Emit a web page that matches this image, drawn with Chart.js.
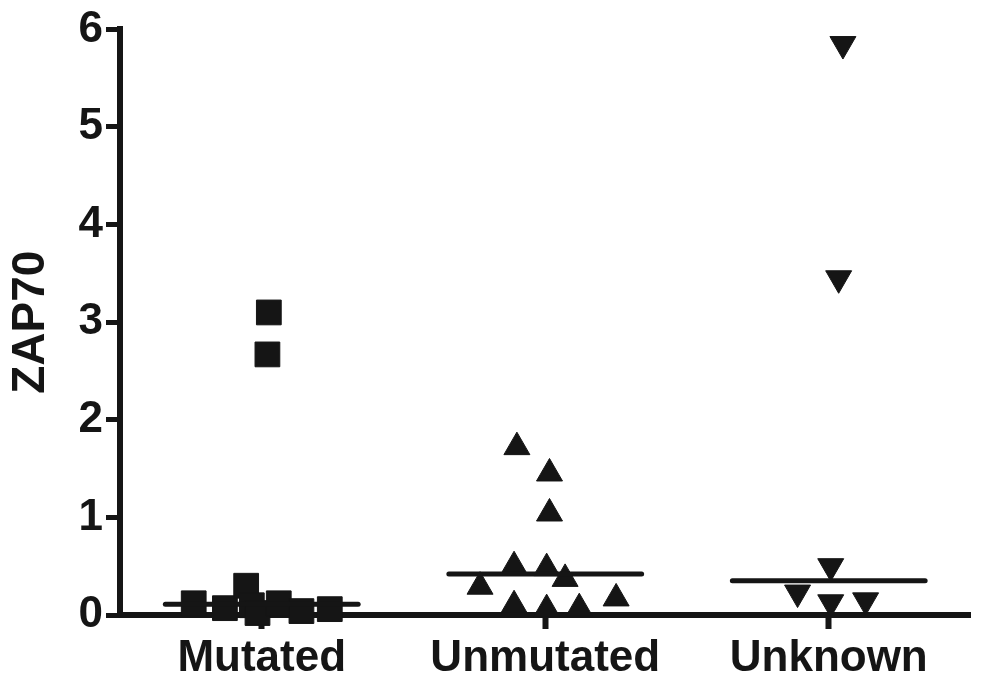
<!DOCTYPE html>
<html>
<head>
<meta charset="utf-8">
<title>ZAP70</title>
<script src="https://cdn.jsdelivr.net/npm/chart.js@4.4.1/dist/chart.umd.min.js"></script>
<style>
    html, body { margin: 0; padding: 0; background: #fff; }
    #wrap { width: 989px; height: 694px; }
</style>
</head>
<body>
<div id="wrap"><canvas id="zapChart" width="989" height="694"></canvas></div>
<script>
// Data
const categories = ['Mutated', 'Unmutated', 'Unknown'];
const yTicks = [0, 1, 2, 3, 4, 5, 6];

// x jitter inside each group (category units) and ZAP70 values
const mutatedJitter = [-0.24, -0.13, -0.055, -0.035, -0.015, 0.06, 0.14, 0.24, 0.025, 0.02];
const mutatedValues = [0.12, 0.07, 0.30, 0.10, 0.02, 0.12, 0.04, 0.06, 3.10, 2.67];

const unmutatedJitter = [-0.10, 0.015, 0.015, -0.11, 0.005, 0.07, -0.23, 0.25, -0.11, 0.005, 0.12];
const unmutatedValues = [1.72, 1.45, 1.04, 0.50, 0.48, 0.37, 0.29, 0.17, 0.10, 0.06, 0.07];

const unknownJitter = [0.05, 0.035, 0.007, -0.11, 0.007, 0.13];
const unknownValues = [5.85, 3.45, 0.50, 0.23, 0.13, 0.15];

const medians = [0.11, 0.42, 0.35];

const INK = '#151515';
const FONT = "'Liberation Sans', Arial, Helvetica, sans-serif";
const MEDIAN_HALF = 0.34;

document.addEventListener('DOMContentLoaded', () => {
    initChart();
});

// Build {x, y} points for one group
function groupPoints(index, jitter, values) {
    return values.map((v, i) => ({ x: index + jitter[i], y: v }));
}

// Median bar for one group
function medianDataset(index) {
    return {
        type: 'line',
        data: [
            { x: index - MEDIAN_HALF, y: medians[index] },
            { x: index + MEDIAN_HALF, y: medians[index] },
        ],
        borderColor: INK,
        borderWidth: 5,
        borderCapStyle: 'round',
        pointRadius: 0,
        fill: false,
    };
}

function initChart() {
    const ctx = document.getElementById('zapChart');
    if (!ctx) return;

    new Chart(ctx.getContext('2d'), {
        type: 'scatter',
        data: {
            datasets: [
                medianDataset(0),
                medianDataset(1),
                medianDataset(2),
                {
                    label: categories[0],
                    data: groupPoints(0, mutatedJitter, mutatedValues),
                    pointStyle: 'rect',
                    pointRadius: 17.5,
                    backgroundColor: INK,
                    borderColor: INK,
                    borderWidth: 1,
                },
                {
                    label: categories[1],
                    data: groupPoints(1, unmutatedJitter, unmutatedValues),
                    pointStyle: 'triangle',
                    pointRadius: 15,
                    backgroundColor: INK,
                    borderColor: INK,
                    borderWidth: 1,
                },
                {
                    label: categories[2],
                    data: groupPoints(2, unknownJitter, unknownValues),
                    pointStyle: 'triangle',
                    rotation: 180,
                    pointRadius: 15,
                    backgroundColor: INK,
                    borderColor: INK,
                    borderWidth: 1,
                },
            ],
        },
        options: {
            responsive: false,
            animation: false,
            clip: false,
            layout: { padding: { top: 28, right: 0, left: 0, bottom: 0 } },
            plugins: {
                legend: { display: false },
                tooltip: { enabled: false },
            },
            scales: {
                x: {
                    type: 'linear',
                    min: -0.5,
                    max: 2.5,
                    afterBuildTicks: (scale) => {
                        scale.ticks = categories.map((c, i) => ({ value: i }));
                    },
                    afterFit: (scale) => {
                        scale.height = 79;
                    },
                    border: { display: true, width: 6, color: INK },
                    grid: {
                        drawOnChartArea: false,
                        tickLength: 14,
                        tickWidth: 6,
                        color: INK,
                    },
                    ticks: {
                        color: INK,
                        padding: 3,
                        maxRotation: 0,
                        font: { family: FONT, size: 44, weight: 'bold' },
                        callback: (value) => categories[value] ?? '',
                    },
                },
                y: {
                    min: 0,
                    max: 6,
                    afterBuildTicks: (scale) => {
                        scale.ticks = yTicks.map((t) => ({ value: t }));
                    },
                    afterFit: (scale) => {
                        scale.width = 120;
                    },
                    border: { display: true, width: 6, color: INK },
                    grid: {
                        drawOnChartArea: false,
                        tickLength: 14,
                        tickWidth: 5,
                        color: INK,
                    },
                    ticks: {
                        color: INK,
                        padding: 3,
                        font: { family: FONT, size: 44, weight: 'bold' },
                    },
                    title: {
                        display: true,
                        text: 'ZAP70',
                        color: INK,
                        padding: { top: 4, bottom: 0 },
                        font: { family: FONT, size: 46, weight: 'bold' },
                    },
                },
            },
        },
    });
}
</script>
</body>
</html>
